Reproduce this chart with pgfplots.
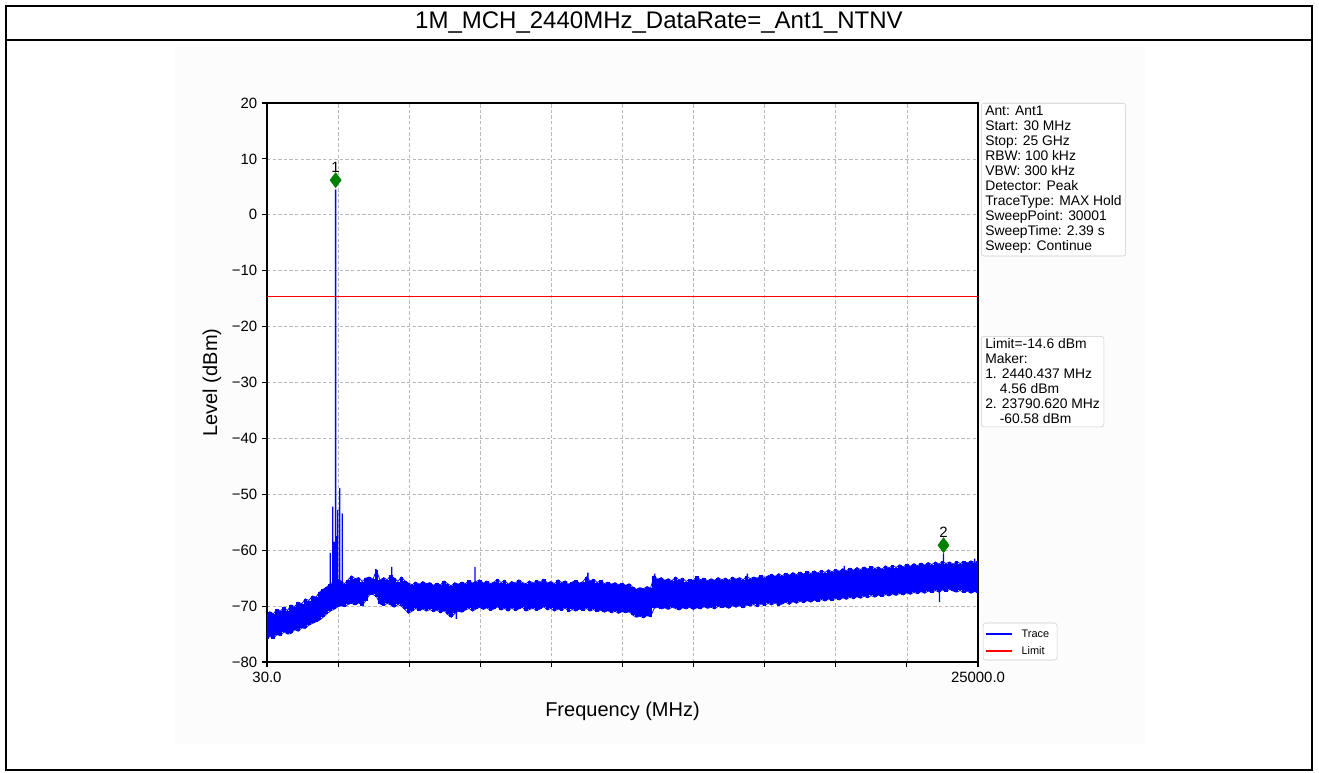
\documentclass[border=0pt]{standalone}
\usepackage{fontspec}
\setmainfont{Liberation Sans}
\usepackage{pgfplots}
\usepackage{pgfplotstable}
\pgfplotsset{compat=1.18}

\definecolor{mkgreen}{RGB}{0,128,0}
\definecolor{boxedge}{RGB}{204,204,204}
\definecolor{figbg}{RGB}{252,252,252}

% noise floor envelope of the max-hold trace (MHz, upper dBm, lower dBm)
\pgfplotstableread{
f top bot
30 -71.6 -75.9
125 -71.0 -75.4
250 -71.4 -75.8
375 -70.6 -75.1
500 -70.9 -75.3
625 -70.2 -74.6
750 -70.8 -75.0
875 -69.8 -74.9
1000 -70.1 -74.2
1125 -69.3 -74.5
1250 -69.6 -73.9
1375 -68.7 -74.0
1500 -69.0 -73.4
1625 -68.2 -73.1
1750 -68.4 -72.8
1875 -67.5 -72.5
2000 -67.0 -72.0
2125 -66.6 -71.4
2250 -66.0 -70.9
2375 -65.7 -70.6
2500 -65.2 -70.2
2625 -65.5 -69.9
2750 -66.0 -70.1
2875 -65.3 -69.7
3000 -64.6 -69.5
3125 -65.1 -69.8
3250 -64.9 -69.4
3375 -65.6 -69.9
3500 -65.0 -69.0
3625 -64.8 -68.0
3750 -65.2 -67.9
3875 -63.6 -68.3
4000 -65.4 -69.6
4125 -64.9 -69.9
4250 -65.3 -69.5
4375 -64.5 -69.8
4500 -65.0 -70.2
4625 -65.6 -69.7
4750 -64.8 -70.0
4875 -65.5 -70.6
5000 -65.9 -71.3
5125 -66.2 -70.9
5250 -65.7 -70.4
5375 -66.1 -70.8
5500 -65.6 -70.5
5625 -66.0 -70.9
5750 -65.8 -70.6
5875 -66.3 -71.0
6000 -65.9 -70.7
6125 -66.2 -71.2
6250 -65.5 -70.8
6375 -66.0 -71.5
6500 -66.4 -72.0
6625 -65.8 -71.3
6750 -66.1 -70.9
6875 -65.7 -71.1
7000 -66.0 -70.7
7125 -65.4 -70.4
7250 -65.9 -70.9
7375 -65.6 -70.5
7500 -65.3 -70.2
7625 -65.9 -70.6
7750 -65.5 -70.3
7875 -66.0 -70.8
8000 -65.7 -70.5
8125 -65.2 -70.1
8250 -65.8 -70.7
8375 -65.4 -70.4
8500 -66.1 -70.9
8625 -65.6 -70.3
8750 -65.9 -70.8
8875 -65.3 -70.5
9000 -65.8 -70.2
9125 -66.0 -70.9
9250 -65.5 -70.6
9375 -65.9 -70.4
9500 -65.4 -70.8
9625 -65.7 -70.5
9750 -65.2 -70.1
9875 -65.9 -70.7
10000 -65.6 -70.4
10125 -66.0 -70.9
10250 -65.3 -70.5
10375 -65.8 -70.8
10500 -65.5 -70.3
10625 -66.1 -71.0
10750 -65.7 -70.6
10875 -65.4 -70.9
11000 -65.9 -70.5
11125 -65.6 -70.8
11250 -64.8 -70.4
11375 -65.5 -70.9
11500 -65.2 -70.6
11625 -65.8 -71.0
11750 -65.4 -70.7
11875 -66.0 -71.1
12000 -65.7 -70.8
12125 -66.1 -71.2
12250 -65.8 -70.9
12375 -66.2 -71.3
12500 -65.9 -71.0
12625 -66.3 -71.2
12750 -66.0 -71.0
12875 -66.6 -71.6
13000 -67.0 -72.0
13125 -66.7 -71.8
13250 -66.9 -72.1
13375 -66.5 -71.7
13500 -66.8 -71.9
13625 -64.6 -70.4
13750 -65.2 -70.2
13875 -64.9 -70.5
14000 -65.4 -70.3
14125 -65.1 -70.6
14250 -65.5 -70.2
14375 -64.8 -70.4
14500 -65.3 -70.7
14625 -65.0 -70.3
14750 -65.6 -70.5
14875 -65.2 -70.2
15000 -65.4 -70.6
15125 -64.7 -70.3
15250 -65.3 -70.5
15375 -65.0 -70.1
15500 -65.5 -70.4
15625 -65.1 -70.2
15750 -65.4 -70.5
15875 -64.9 -70.0
16000 -65.3 -70.3
16125 -65.0 -70.1
16250 -65.4 -70.4
16375 -64.8 -69.9
16500 -65.2 -70.2
16625 -64.9 -69.9
16750 -65.3 -70.3
16875 -64.7 -69.8
17000 -65.1 -70.0
17125 -64.8 -69.7
17250 -65.0 -70.1
17375 -64.5 -69.6
17500 -64.9 -69.9
17625 -64.6 -69.5
17750 -64.3 -69.8
17875 -64.7 -69.4
18000 -64.2 -69.9
18125 -64.6 -69.6
18250 -64.1 -69.3
18375 -64.5 -69.7
18500 -64.0 -69.2
18625 -64.4 -69.5
18750 -63.9 -69.1
18875 -64.3 -69.4
19000 -63.8 -69.0
19125 -64.2 -69.3
19250 -63.7 -68.9
19375 -64.1 -69.2
19500 -63.6 -68.8
19625 -64.0 -69.1
19750 -63.5 -68.7
19875 -63.9 -69.0
20000 -63.4 -68.6
20125 -63.8 -68.9
20250 -63.3 -68.5
20375 -63.7 -68.8
20500 -63.2 -68.4
20625 -63.6 -68.7
20750 -63.1 -68.3
20875 -63.5 -68.6
21000 -63.0 -68.2
21125 -63.4 -68.5
21250 -62.9 -68.1
21375 -63.3 -68.4
21500 -63.0 -68.0
21625 -63.4 -68.3
21750 -62.8 -67.9
21875 -63.2 -68.2
22000 -62.7 -67.8
22125 -63.1 -68.1
22250 -62.6 -67.7
22375 -63.0 -68.0
22500 -62.5 -67.6
22625 -62.9 -67.9
22750 -62.4 -67.5
22875 -62.8 -67.8
23000 -62.3 -67.4
23125 -62.7 -67.7
23250 -62.2 -67.3
23375 -62.6 -67.6
23500 -62.1 -67.2
23625 -62.5 -67.5
23750 -62.0 -67.1
23875 -62.4 -67.4
24000 -62.1 -67.0
24125 -62.5 -67.3
24250 -62.0 -67.5
24375 -62.4 -67.2
24500 -62.0 -67.6
24625 -62.3 -67.3
24750 -61.9 -67.7
24875 -62.2 -67.4
25000 -62.0 -67.6
}\noisefloor

\begin{document}
\begin{tikzpicture}
\path (0pt,0pt) rectangle (989.25pt,579pt);
\fill[figbg] (131.25pt,20.25pt) rectangle (858.75pt,543.75pt);
\draw[line width=1.5pt] (4.5pt,1.5pt) rectangle (984pt,574.5pt);
\draw[line width=1.5pt] (4.5pt,549pt) -- (984pt,549pt);
\node[font=\fontsize{18}{21}\selectfont] at (494.25pt,561.75pt) {1M\_MCH\_2440MHz\_DataRate=\_Ant1\_NTNV};

\begin{axis}[
  at={(200.25pt,82.5pt)}, anchor=south west,
  width=533.25pt, height=419.25pt, scale only axis,
  axis background/.style={fill=white},
  xmin=30, xmax=25000, ymin=-80, ymax=20,
  scaled x ticks=false, scaled y ticks=false,
  xtick={30,2527,5024,7521,10018,12515,15012,17509,20006,22503,25000},
  xticklabels={30.0,,,,,,,,,,25000.0},
  ytick={-80,-70,-60,-50,-40,-30,-20,-10,0,10,20},
  yticklabels={−80,−70,−60,−50,−40,−30,−20,−10,0,10,20},
  tick pos=left, tick align=outside, major tick length=3.75pt,
  grid=major,
  major grid style={gray!55, line width=0.5pt, dash pattern=on 2.6pt off 1.6pt},
  axis line style={black, line width=0.8pt},
  tick style={black, line width=0.8pt},
  ticklabel style={font=\fontsize{11.2}{13}\selectfont},
  xlabel={Frequency (MHz)}, ylabel={Level (dBm)},
  label style={font=\fontsize{15}{18}\selectfont},
  xlabel style={at={(axis description cs:0.5,-0.0877)}, anchor=center},
  ylabel style={at={(axis description cs:-0.0774,0.5)}, anchor=center},
]
% dense noise band: one vertical bar per 125 MHz from lower to upper envelope
\addplot[color=blue, line width=0.6pt, mark=none, forget plot,
  error bars/.cd, y dir=minus, y explicit, error mark=none,
  error bar style={color=blue, line width=2.7pt, line cap=butt}]
  table[x=f, y=top, y error minus expr=\thisrow{top}-\thisrow{bot}] {\noisefloor};
\addplot[color=blue, line width=0.6pt, mark=none, forget plot] table[x=f,y=bot]{\noisefloor};

% carrier, sidebands and single spurious spikes (path returns through the band)
\addplot[color=blue, line width=1pt, mark=none, forget plot] coordinates {
  (2253,-68.5) (2253,-60.5) (2253,-68.5)
  (2337,-68.5) (2337,-52.2) (2337,-68.5)
  (2385,-68.0) (2385,-58.5) (2385,-68.0)
  (2440,-68.0) (2440,4.56) (2440,-68.0)
  (2480,-68.0) (2480,-57.5) (2480,-68.0)
  (2513,-68.0) (2513,-52.8) (2513,-68.0)
  (2583,-68.0) (2583,-48.9) (2583,-68.0)
  (2675,-68.0) (2675,-53.4) (2675,-68.0)
  (3850,-67.0) (3850,-63.4) (3850,-67.0)
  (4410,-67.5) (4410,-63.0) (4410,-67.5)
  (6680,-68.0) (6680,-72.3) (6680,-68.0)
  (7335,-68.0) (7335,-63.0) (7335,-68.0)
  (11300,-68.0) (11300,-64.0) (11300,-68.0)
  (13650,-68.0) (13650,-64.2) (13650,-68.0)
  (16900,-67.5) (16900,-64.2) (16900,-67.5)
  (20300,-66.0) (20300,-62.8) (20300,-66.0)
  (23650,-65.0) (23650,-69.3) (23650,-65.0)
  (23790,-65.0) (23790,-60.58) (23790,-65.0)
  (24880,-65.0) (24880,-61.5) (24880,-65.0)
};

\addplot[color=red, line width=0.75pt, mark=none, forget plot] coordinates {(30,-14.6) (25000,-14.6)};

\addplot[only marks, mark=diamond*, mark size=5.6pt, color=mkgreen,
  nodes near coords, point meta=explicit symbolic,
  nodes near coords style={black, anchor=south, inner sep=0pt, yshift=5.6pt,
    font=\fontsize{11.2}{13}\selectfont},
  forget plot] coordinates {(2440,6.2) [1] (23790,-59.1) [2]};
\end{axis}

% legend box
\draw[boxedge, fill=white, rounded corners=2pt] (737.25pt,84pt) rectangle (792.75pt,111.75pt);
\draw[blue, line width=1pt] (739.5pt,103.5pt) -- (759pt,103.5pt);
\draw[red, line width=1pt] (739.5pt,90.75pt) -- (759pt,90.75pt);
\node[anchor=west, inner sep=0pt, font=\fontsize{8.2}{9.5}\selectfont] at (766pt,103.5pt) {Trace};
\node[anchor=west, inner sep=0pt, font=\fontsize{8.2}{9.5}\selectfont] at (766pt,90.75pt) {Limit};

\node[draw=boxedge, fill=white, rounded corners=2pt, anchor=north west, align=left,
  inner xsep=3pt, inner ysep=2pt, font=\fontsize{10.4}{11.25}\selectfont]
  at (735.75pt,501.75pt)
  {Ant: Ant1\\Start: 30 MHz\\Stop: 25 GHz\\RBW: 100 kHz\\VBW: 300 kHz\\Detector: Peak\\TraceType: MAX Hold\\SweepPoint: 30001\\SweepTime: 2.39 s\\Sweep: Continue};
\node[draw=boxedge, fill=white, rounded corners=2pt, anchor=north west, align=left,
  inner xsep=3pt, inner ysep=2pt, font=\fontsize{10.4}{11.25}\selectfont]
  at (735.75pt,327pt)
  {Limit=-14.6 dBm\\Maker:\\1. 2440.437 MHz\\\hspace*{1.05em}4.56 dBm\\2. 23790.620 MHz\\\hspace*{1.05em}-60.58 dBm};
\end{tikzpicture}
\end{document}
